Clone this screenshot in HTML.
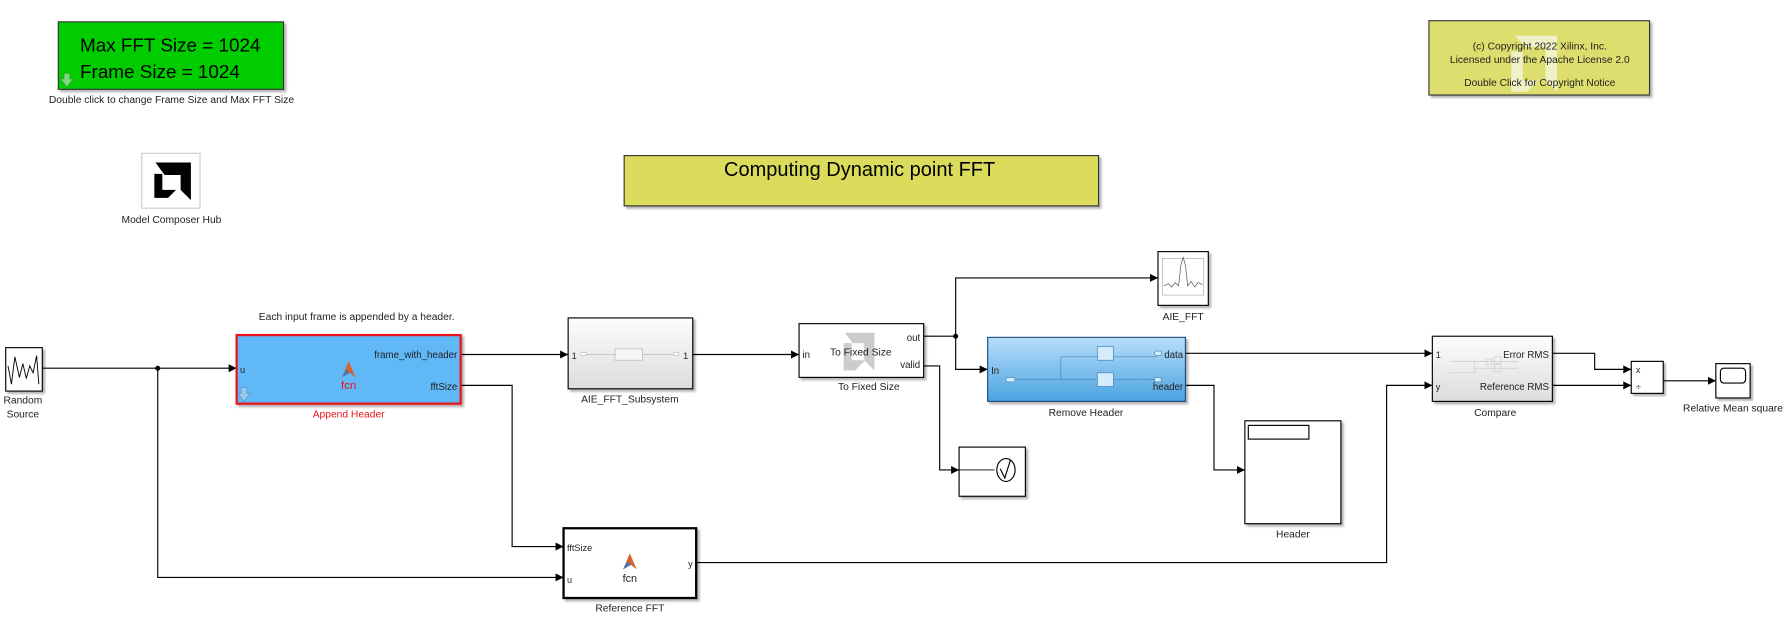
<!DOCTYPE html>
<html><head><meta charset="utf-8"><style>
html,body{margin:0;padding:0;background:#fff;}
svg{display:block;}
text{font-family:"Liberation Sans",sans-serif;fill:#222;}
</style></head><body>
<svg width="1789" height="637" viewBox="0 0 1565 557" xmlns="http://www.w3.org/2000/svg">
<defs>
<marker id="a" viewBox="0 0 10 10" refX="10" refY="5" markerWidth="7" markerHeight="7" orient="auto" markerUnits="userSpaceOnUse"><path d="M0,0L10,5L0,10z" fill="#000"/></marker>
<linearGradient id="g1" x1="0" y1="0" x2="0" y2="1"><stop offset="0" stop-color="#fdfdfd"/><stop offset="1" stop-color="#dcdcdc"/></linearGradient>
<linearGradient id="g2" x1="0" y1="0" x2="0" y2="1"><stop offset="0" stop-color="#b8defb"/><stop offset="1" stop-color="#4aa3e0"/></linearGradient>
<filter id="s"><feDropShadow dx="2" dy="2" stdDeviation="1" flood-color="#000" flood-opacity="0.3"/></filter>
</defs>

<!-- green box -->
<rect x="51" y="19" width="197" height="59" fill="#00cc00" stroke="#333" filter="url(#s)"/>
<text x="70" y="45" font-size="16.5" style="fill:#000">Max FFT Size = 1024</text>
<text x="70" y="68" font-size="16.5" style="fill:#000">Frame Size = 1024</text>
<path d="M56,64 H61 V69 H64 L58.5,76 L53,69 H56 Z" fill="#7fd87f" stroke="#3a9a3a" stroke-width="0.6"/>
<text x="150" y="90" font-size="9" text-anchor="middle">Double click to change Frame Size and Max FFT Size</text>

<!-- hub -->
<rect x="124" y="134" width="51" height="48" fill="#fff" stroke="#ccc"/>
<path d="M136,142 L167,142 L167,175 L158,166 L158,153 L144,153 Z" fill="#000"/>
<path d="M135,152 L142,152 L142,166 L154,166 L147,173 L135,173 Z" fill="#000"/>
<text x="150" y="195" font-size="9" text-anchor="middle">Model Composer Hub</text>

<!-- title -->
<rect x="546" y="136" width="415" height="44" fill="#dcdc5c" stroke="#333" filter="url(#s)"/>
<text x="752" y="154" font-size="17.5" text-anchor="middle" style="fill:#000">Computing Dynamic point FFT</text>

<!-- copyright -->
<rect x="1250" y="18" width="193" height="65" fill="#dede6e" stroke="#333" filter="url(#s)"/>
<path d="M1325,31 L1362,31 L1362,80 L1352,70 L1352,41 L1335,41 Z M1322,45 L1332,45 L1332,70 L1346,70 L1336,80 L1322,80 Z" fill="#f4f4d8" opacity="0.85"/>
<text x="1347" y="43" font-size="9" text-anchor="middle">(c) Copyright 2022 Xilinx, Inc.</text>
<text x="1347" y="55" font-size="9" text-anchor="middle">Licensed under the Apache License 2.0</text>
<text x="1347" y="75" font-size="9" text-anchor="middle">Double Click for Copyright Notice</text>

<!-- wires -->
<g fill="none" stroke="#000" stroke-width="1">
<path d="M37,322 H207" marker-end="url(#a)"/>
<path d="M138,322 V505 H493" marker-end="url(#a)"/>
<path d="M403,310 H497" marker-end="url(#a)"/>
<path d="M403,337 H448 V478 H493" marker-end="url(#a)"/>
<path d="M606,310 H699" marker-end="url(#a)"/>
<path d="M808,294 H836 V243 H1013" marker-end="url(#a)"/>
<path d="M836,294 V323 H864" marker-end="url(#a)"/>
<path d="M808,320 H822 V411 H839" marker-end="url(#a)"/>
<path d="M1037,309 H1253" marker-end="url(#a)"/>
<path d="M1037,337 H1062 V411 H1089" marker-end="url(#a)"/>
<path d="M609,492 H1213 V337 H1253" marker-end="url(#a)"/>
<path d="M1358,309 H1395 V323 H1427" marker-end="url(#a)"/>
<path d="M1358,337 H1427" marker-end="url(#a)"/>
<path d="M1455,333 H1501" marker-end="url(#a)"/>
</g>
<circle cx="138" cy="322" r="2.2" fill="#000"/>
<circle cx="836" cy="294" r="2.2" fill="#000"/>

<!-- random source -->
<rect x="5" y="304" width="32" height="38" fill="#fff" stroke="#000" filter="url(#s)"/>
<path d="M7,320 L10,336 L13,312 L17,330 L20,318 L23,331 L26,320 L29,326 L32,311 L34,336" fill="none" stroke="#000" stroke-width="0.8"/>
<text x="20" y="353" font-size="9" text-anchor="middle">Random</text>
<text x="20" y="365" font-size="9" text-anchor="middle">Source</text>

<!-- append header -->
<text x="312" y="280" font-size="9" text-anchor="middle">Each input frame is appended by a header.</text>
<rect x="207" y="293" width="196" height="60" fill="#61b8f6" stroke="#e8141a" stroke-width="2" filter="url(#s)"/>
<text x="210" y="326" font-size="8">u</text>
<text x="400" y="313" font-size="8.5" text-anchor="end">frame_with_header</text>
<text x="400" y="341" font-size="8.5" text-anchor="end">fftSize</text>
<path d="M299,330 L305,316 L311,330 L306,326 Z" fill="#d9602a"/><path d="M299,330 L303,323 L306,326Z" fill="#3a7fc0"/>
<text x="305" y="340" font-size="10" text-anchor="middle" style="fill:#e8141a">fcn</text>
<path d="M211,339 H216 V344 H219 L213.5,351 L208,344 H211 Z" fill="#9cc8ee" stroke="#5a90c0" stroke-width="0.6"/>
<text x="305" y="365" font-size="9" text-anchor="middle" style="fill:#e8141a">Append Header</text>

<!-- AIE_FFT_Subsystem -->
<rect x="497" y="278" width="109" height="62" fill="url(#g1)" stroke="#000" filter="url(#s)"/>
<path d="M512,310 H538 M562,310 H590" stroke="#bbb" stroke-width="0.7"/>
<rect x="538" y="305" width="24" height="10" fill="#f6f6f6" stroke="#bbb" stroke-width="0.7"/>
<rect x="508" y="308" width="5" height="3" rx="1.5" fill="#fff" stroke="#bbb" stroke-width="0.6"/>
<rect x="589" y="308" width="5" height="3" rx="1.5" fill="#fff" stroke="#bbb" stroke-width="0.6"/>
<text x="500" y="314" font-size="8">1</text>
<text x="602" y="314" font-size="8" text-anchor="end">1</text>
<text x="551" y="352" font-size="9" text-anchor="middle">AIE_FFT_Subsystem</text>

<!-- To Fixed Size -->
<rect x="699" y="283" width="109" height="47" fill="#fff" stroke="#000" filter="url(#s)"/>
<path d="M739,291 L765,291 L765,324 L756,315 L756,300 L746,300 Z M738,300 L745,300 L745,315 L757,315 L748,324 L738,324 Z" fill="#ccc"/>
<text x="702" y="313" font-size="8.5">in</text>
<text x="805" y="298" font-size="8.5" text-anchor="end">out</text>
<text x="805" y="322" font-size="8.5" text-anchor="end">valid</text>
<text x="753" y="311" font-size="9" text-anchor="middle">To Fixed Size</text>
<text x="760" y="341" font-size="9" text-anchor="middle">To Fixed Size</text>

<!-- check block -->
<rect x="839" y="391" width="58" height="43" fill="#fff" stroke="#000" filter="url(#s)"/>
<path d="M839,411 H870" stroke="#000" stroke-width="0.8"/>
<ellipse cx="880" cy="411" rx="8" ry="10" fill="#fff" stroke="#000"/>
<path d="M875,410 L879,418 L884,402" fill="none" stroke="#000"/>

<!-- AIE_FFT scope -->
<rect x="1013" y="220" width="44" height="47" fill="#fff" stroke="#000" filter="url(#s)"/>
<rect x="1017" y="226" width="36" height="32" fill="#fff" stroke="#aaa" stroke-width="0.6"/>
<path d="M1018,250 L1022,248 L1025,251 L1028,247 L1031,250 L1033,232 L1035,225 L1037,232 L1039,250 L1042,246 L1045,251 L1048,247 L1052,249" fill="none" stroke="#555" stroke-width="0.6"/>
<text x="1035" y="280" font-size="9" text-anchor="middle">AIE_FFT</text>

<!-- Remove Header -->
<rect x="864" y="295" width="173" height="56" fill="url(#g2)" stroke="#1c4f80" filter="url(#s)"/>
<g stroke="#4880b0" stroke-width="0.6" fill="#d6ebfb">
<path d="M883,332 H1012 M928,332 V312 H1012" fill="none"/>
<rect x="960" y="303" width="14" height="12"/>
<rect x="960" y="326" width="14" height="12"/>
<rect x="880" y="330" width="8" height="4" rx="2"/>
<rect x="1010" y="307" width="6" height="4" rx="2"/>
<rect x="1010" y="330" width="6" height="4" rx="2"/>
</g>
<text x="867" y="327" font-size="8.5">In</text>
<text x="1035" y="313" font-size="8.5" text-anchor="end">data</text>
<text x="1035" y="341" font-size="8.5" text-anchor="end">header</text>
<text x="950" y="364" font-size="9" text-anchor="middle">Remove Header</text>

<!-- Header display -->
<rect x="1089" y="368" width="84" height="90" fill="#fff" stroke="#000" filter="url(#s)"/>
<rect x="1092" y="372" width="53" height="12" fill="#fff" stroke="#000"/>
<text x="1131" y="470" font-size="9" text-anchor="middle">Header</text>

<!-- Reference FFT -->
<rect x="493" y="462" width="116" height="61" fill="#fff" stroke="#000" stroke-width="2" filter="url(#s)"/>
<text x="496" y="482" font-size="8">fftSize</text>
<text x="496" y="510" font-size="8">u</text>
<text x="606" y="496" font-size="8" text-anchor="end">y</text>
<path d="M545,498 L551,484 L557,498 L552,494 Z" fill="#d9602a"/><path d="M545,498 L549,491 L552,494Z" fill="#3a7fc0"/>
<text x="551" y="509" font-size="9.5" text-anchor="middle">fcn</text>
<text x="551" y="535" font-size="9" text-anchor="middle">Reference FFT</text>

<!-- Compare -->
<rect x="1253" y="294" width="105" height="57" fill="url(#g1)" stroke="#000" filter="url(#s)"/>
<g stroke="#ccc" stroke-width="0.6" fill="none">
<path d="M1268,316 H1290 M1268,326 H1290 V316 H1328 M1290,322 H1328"/>
<rect x="1300" y="314" width="5" height="5"/><rect x="1307" y="312" width="6" height="6"/><rect x="1307" y="319" width="6" height="6"/>
</g>
<text x="1256" y="313" font-size="8">1</text>
<text x="1256" y="341" font-size="8">y</text>
<text x="1355" y="313" font-size="8.5" text-anchor="end">Error RMS</text>
<text x="1355" y="341" font-size="8.5" text-anchor="end">Reference RMS</text>
<text x="1308" y="364" font-size="9" text-anchor="middle">Compare</text>

<!-- product -->
<rect x="1427" y="316" width="28" height="28" fill="#fff" stroke="#000" filter="url(#s)"/>
<text x="1431" y="326" font-size="8">x</text>
<text x="1431" y="341" font-size="8">÷</text>

<!-- scope -->
<rect x="1501" y="318" width="30" height="30" fill="#fff" stroke="#000" filter="url(#s)"/>
<rect x="1505" y="322" width="22" height="13" rx="3" fill="#fff" stroke="#000"/>
<text x="1516" y="360" font-size="9" text-anchor="middle">Relative Mean square</text>
</svg>
</body></html>
